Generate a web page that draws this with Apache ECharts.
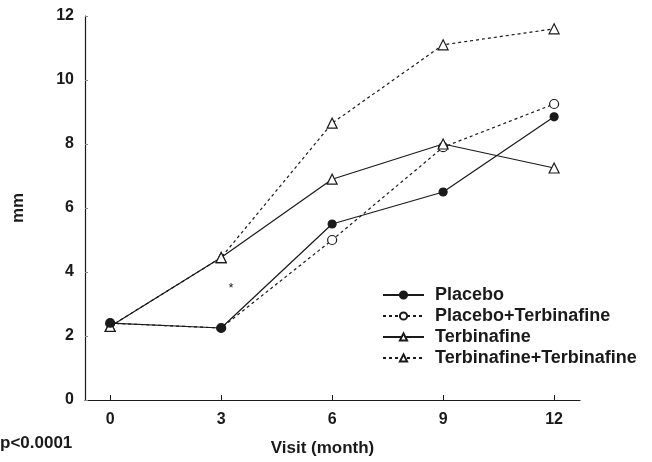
<!DOCTYPE html>
<html>
<head>
<meta charset="utf-8">
<script src="https://cdn.jsdelivr.net/npm/echarts@6/dist/echarts.min.js"></script>
<style>
  html, body { margin: 0; padding: 0; background: #ffffff; }
  #chart { width: 652px; height: 462px; }
</style>
</head>
<body>
<div id="chart"></div>
<script>
const visits = [0, 3, 6, 9, 12];
const placebo = [2.4, 2.25, 5.5, 6.5, 8.85];
const placeboTerb = [2.4, 2.25, 5.0, 7.9, 9.25];
const terb = [2.3, 4.45, 6.9, 8.0, 7.25];
const terbTerb = [2.3, 4.45, 8.65, 11.1, 11.6];
const yTicks = [0, 2, 4, 6, 8, 10, 12];

const ink = "#1a1a1a";
const font = "Liberation Sans, Arial, Helvetica, sans-serif";

function pairs(vals) {
  return visits.map((v, i) => [v, vals[i]]);
}

function lineSeries(name, vals, symbol, size, filled, dashed) {
  return {
    name: name,
    type: "line",
    data: pairs(vals),
    symbol: symbol,
    symbolSize: size,
    showAllSymbol: true,
    lineStyle: { color: ink, width: 1.2, type: dashed ? [3, 3] : "solid" },
    itemStyle: { color: filled ? ink : "#ffffff", borderColor: ink, borderWidth: 1.2 },
    emphasis: { disabled: true },
    z: filled ? 3 : 2,
  };
}

const chart = echarts.init(document.getElementById("chart"));

const option = {
  animation: false,
  backgroundColor: "#ffffff",
  textStyle: { fontFamily: font, color: ink },
  grid: { left: 85, right: 72, top: 16, bottom: 61 },
  legend: {
    orient: "vertical",
    left: 377,
    top: 281,
    itemWidth: 41,
    itemHeight: 9,
    itemGap: 3,
    textStyle: {
      fontSize: 18, fontWeight: "bold", lineHeight: 18, color: ink, fontFamily: font,
      padding: [0, 0, 0, 6],
    },
    data: ["Placebo", "Placebo+Terbinafine", "Terbinafine", "Terbinafine+Terbinafine"],
  },
  xAxis: {
    type: "value",
    min: -0.68,
    max: 12.7,
    name: "Visit (month)",
    nameLocation: "middle",
    nameGap: 40,
    nameTextStyle: { fontSize: 17, fontWeight: "bold", color: ink, fontFamily: font, padding: [0, 20, 0, 0] },
    splitLine: { show: false },
    axisLine: { onZero: false, lineStyle: { color: ink, width: 1.2 } },
    axisTick: { inside: true, length: 5, lineStyle: { color: ink }, customValues: visits },
    axisLabel: { fontSize: 16, fontWeight: "bold", color: ink, margin: 12, customValues: visits },
  },
  yAxis: {
    type: "value",
    min: 0,
    max: 12,
    interval: 2,
    name: "mm",
    nameLocation: "middle",
    nameGap: 58,
    nameTextStyle: { fontSize: 17, fontWeight: "bold", color: ink, fontFamily: font },
    splitLine: { show: false },
    axisLine: { show: true, onZero: false, lineStyle: { color: ink, width: 1.2 } },
    axisTick: { show: true, inside: true, length: 3, lineStyle: { color: "#888" } },
    axisLabel: {
      fontSize: 16, fontWeight: "bold", color: ink, margin: 11,
      formatter: (v) => (yTicks.includes(v) ? String(v) : ""),
    },
  },
  series: [
    lineSeries("Placebo", placebo, "circle", 8, true, false),
    lineSeries("Placebo+Terbinafine", placeboTerb, "circle", 9, false, true),
    lineSeries("Terbinafine", terb, "triangle", 10, false, false),
    lineSeries("Terbinafine+Terbinafine", terbTerb, "triangle", 10, false, true),
  ],
};

chart.setOption(option);

// significance marker beside month 3 and the p-value note
const star = chart.convertToPixel({ gridIndex: 0 }, [3.27, 3.5]);
chart.setOption({
  graphic: [
    {
      type: "text",
      x: star[0], y: star[1],
      style: { text: "*", fill: ink, font: "13px " + font, align: "center", verticalAlign: "middle" },
    },
    {
      type: "text",
      left: 0, top: 435,
      style: { text: "p<0.0001", fill: ink, font: "bold 17px " + font },
    },
  ],
});
</script>
</body>
</html>
